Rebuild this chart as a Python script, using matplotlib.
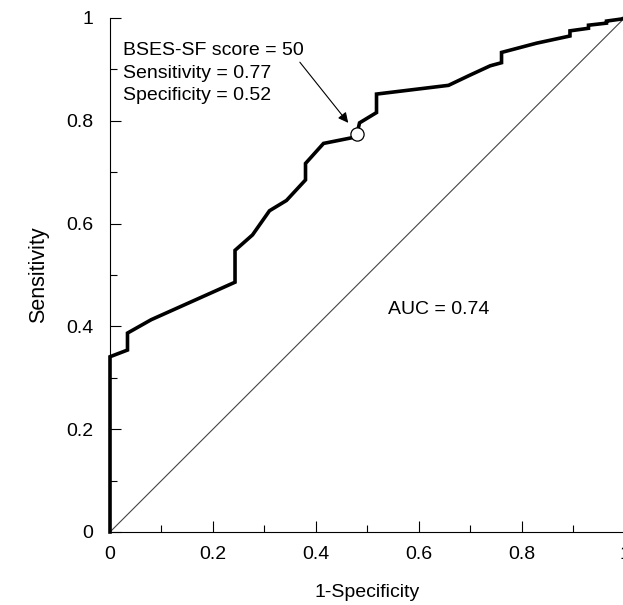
import matplotlib
matplotlib.use("Agg")
import matplotlib.pyplot as plt

plt.rcParams["font.family"] = ["Liberation Sans", "DejaVu Sans"]

# ROC 曲线数据 (1-特异度, 灵敏度)
fpr = [0, 0, 0.034, 0.034, 0.08, 0.243, 0.243, 0.277, 0.310, 0.343, 0.380, 0.380,
       0.415, 0.470, 0.480, 0.485, 0.518, 0.518, 0.658, 0.700, 0.739, 0.761, 0.761,
       0.829, 0.894, 0.894, 0.930, 0.930, 0.965, 0.965, 0.994, 1.0]
tpr = [0, 0.341, 0.354, 0.387, 0.413, 0.486, 0.548, 0.578, 0.625, 0.645, 0.685, 0.717,
       0.756, 0.767, 0.774, 0.796, 0.816, 0.852, 0.869, 0.889, 0.907, 0.913, 0.933,
       0.951, 0.965, 0.975, 0.980, 0.986, 0.990, 0.994, 0.998, 1.0]

# 截断点
cut_fpr = 0.48
cut_tpr = 0.774
cut_lines = ["BSES-SF score = 50", "Sensitivity = 0.77", "Specificity = 0.52"]
cut_line_y = [0.928, 0.883, 0.840]
auc_text = "AUC = 0.74"

ticks = [0, 0.2, 0.4, 0.6, 0.8, 1]
tick_labels = ["0", "0.2", "0.4", "0.6", "0.8", "1"]
minor_ticks = [0.1, 0.3, 0.5, 0.7, 0.9]

fig = plt.figure(figsize=(6.23, 6.05), dpi=100)
ax = fig.add_axes([110 / 623, 73 / 605, 514.5 / 623, 514 / 605])

ax.plot([0, 1], [0, 1], color="#444444", linewidth=0.8)
ax.plot(fpr, tpr, color="black", linewidth=2.6, solid_joinstyle="miter",
        clip_on=False, zorder=4)
ax.plot(cut_fpr, cut_tpr, "o", markersize=9.5, markerfacecolor="white",
        markeredgecolor="black", markeredgewidth=0.9, zorder=5)

ax.annotate("", xy=(0.463, 0.796), xytext=(0.369, 0.914),
            arrowprops=dict(arrowstyle="-|>", color="black", lw=0.8,
                            mutation_scale=15, shrinkA=0, shrinkB=0))
for line, y in zip(cut_lines, cut_line_y):
    ax.text(0.025, y, line, fontsize=14, va="baseline", ha="left")
ax.text(0.54, 0.432, auc_text, fontsize=14, va="center", ha="left")

ax.set_xlim(0, 1)
ax.set_ylim(0, 1)
ax.set_xticks(ticks)
ax.set_xticklabels(tick_labels)
ax.set_yticks(ticks)
ax.set_yticklabels(tick_labels)
ax.set_xticks(minor_ticks, minor=True)
ax.set_yticks(minor_ticks, minor=True)
ax.tick_params(which="major", direction="in", length=8, width=0.8, labelsize=14)
ax.tick_params(which="minor", direction="in", length=5, width=0.8)
ax.tick_params(axis="x", which="major", pad=10)
ax.tick_params(axis="y", which="major", pad=12)

for side in ["top", "right"]:
    ax.spines[side].set_visible(False)
for side in ["left", "bottom"]:
    ax.spines[side].set_linewidth(0.8)

ax.set_xlabel("1-Specificity", fontsize=14, labelpad=15)
ax.set_ylabel("Sensitivity", fontsize=15.5, labelpad=12)

fig.savefig("out.png", dpi=100)
